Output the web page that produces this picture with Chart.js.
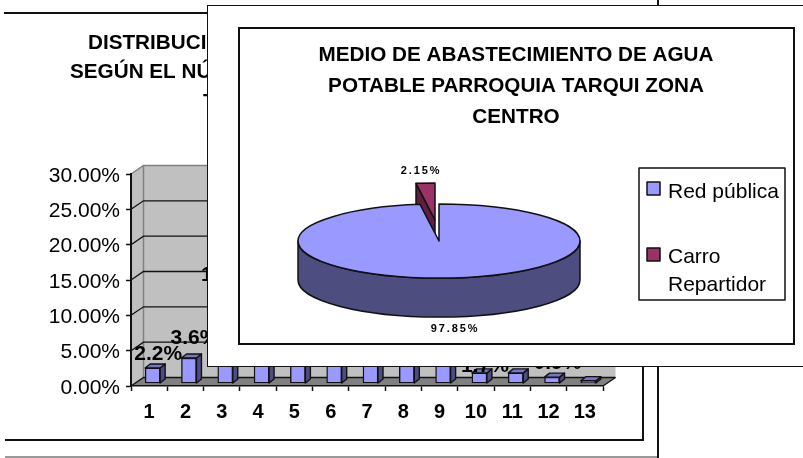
<!DOCTYPE html>
<html>
<head>
<meta charset="utf-8">
<script src="https://cdn.jsdelivr.net/npm/chart.js@4"></script>
<style>
html,body{margin:0;padding:0;background:#fff;}
#page{position:relative;width:803px;height:458px;overflow:hidden;background:#fff;font-family:"Liberation Sans",Arial,sans-serif;}
.ln{position:absolute;background:#111;}
canvas{position:absolute;display:block;}
#win{position:absolute;left:207px;top:5px;width:620px;height:360px;background:#fff;border:1.5px solid #111;}
#frame{position:absolute;left:238px;top:27px;width:553px;height:314px;border:2px solid #111;background:#fff;}
#pie{left:239px;top:28px;}
</style>
</head>
<body>
<div id="page">
  <canvas id="bars" width="803" height="458" style="left:0;top:0"></canvas>
  <div class="ln" style="left:4px;top:12px;width:210px;height:2px"></div>
  <div class="ln" style="left:5px;top:439px;width:639px;height:2px"></div>
  <div class="ln" style="left:642px;top:360px;width:2px;height:81px"></div>
  <div class="ln" style="left:5px;top:456px;width:652px;height:2px;background:#999"></div>
  <div class="ln" style="left:657px;top:0;width:1.5px;height:458px"></div>
  <div id="win"></div>
  <div id="frame"></div>
  <canvas id="pie" width="554" height="314"></canvas>
</div>
<script>
// ---- bar chart data ----
const barCategories = ['1','2','3','4','5','6','7','8','9','10','11','12','13'];
const barValues = [2.2, 3.6, 13.4, 19.5, 20.4, 14.6, 10.5, 6.5, 4.0, 1.5, 1.5, 0.9, 0.4];
const barLabels = ['2.2%','3.6%','13.4%','19.5%','20.4%','14.6%','10.5%','6.5%','4.0%','1.7%','','0.9%',''];
const barTitleLines = ['DISTRIBUCIÓN','SEGÚN EL NÚMERO','T'];

// ---- pie chart data ----
const pieCategories = ['Red pública','Carro Repartidor'];
const pieValues = [97.85, 2.15];
const pieLabels = ['97.85%','2.15%'];
const pieTitleLines = ['MEDIO DE ABASTECIMIENTO DE AGUA','POTABLE PARROQUIA TARQUI ZONA','CENTRO'];

const FONT = '"Liberation Sans", Arial, sans-serif';
const INK='#000';
const BLUE='#9999ff', BLUE_SIDE='#4d4d80', BLUE_TOP='#7676c4', RED='#993366', RED_SIDE='#5f1f42';

const bar3d = {
  id:'bar3d',
  beforeDraw(chart){
    const {ctx,chartArea:a,scales:{y}}=chart;
    const dx=12.5, dy=8.5;
    // tick text sits slightly below its tick in the reference
    if(!y._nudged){
      y.getLabelItems().forEach(i=>{i.options.translation[1]+=2;});
      y._nudged=true;
    }
    ctx.save();
    ctx.fillStyle='#808080';
    ctx.beginPath();ctx.moveTo(a.left,a.bottom);ctx.lineTo(a.right,a.bottom);ctx.lineTo(a.right+dx,a.bottom-dy);ctx.lineTo(a.left+dx,a.bottom-dy);ctx.closePath();ctx.fill();
    ctx.fillStyle='#c0c0c0';
    ctx.fillRect(a.left+dx,a.top-dy,a.width,a.height);
    ctx.beginPath();ctx.moveTo(a.left,a.bottom);ctx.lineTo(a.left+dx,a.bottom-dy);ctx.lineTo(a.left+dx,a.top-dy);ctx.lineTo(a.left,a.top);ctx.closePath();ctx.fill();
    ctx.strokeStyle='#808080';ctx.lineWidth=1.5;
    ctx.beginPath();ctx.moveTo(a.left,a.top);ctx.lineTo(a.left+dx,a.top-dy);ctx.lineTo(a.right+dx,a.top-dy);ctx.moveTo(a.left+dx,a.top-dy);ctx.lineTo(a.left+dx,a.bottom-dy);ctx.stroke();
    ctx.strokeStyle='#111';ctx.lineWidth=1.3;
    y.ticks.forEach(t=>{
      if(t.value===y.max) return;
      const p=y.getPixelForValue(t.value);
      ctx.beginPath();ctx.moveTo(a.left,p);ctx.lineTo(a.left+dx,p-dy);ctx.lineTo(a.right+dx,p-dy);ctx.stroke();
    });
    ctx.beginPath();ctx.moveTo(a.right,a.bottom);ctx.lineTo(a.right+dx,a.bottom-dy);ctx.stroke();
    ctx.restore();
  },
  beforeDatasetsDraw(chart){
    const {ctx}=chart;
    ctx.save();ctx.translate(3.5,-2.5);
  },
  afterDatasetsDraw(chart){
    const {ctx}=chart;
    const meta=chart.getDatasetMeta(0);
    const dx=5, dy=4;
    ctx.strokeStyle='#111';ctx.lineWidth=1.4;ctx.lineJoin='round';
    meta.data.forEach(el=>{
      const l=el.x-el.width/2,r=el.x+el.width/2,t=el.y,b=el.base;
      ctx.fillStyle=BLUE_SIDE;
      ctx.beginPath();ctx.moveTo(r,t);ctx.lineTo(r+dx,t-dy);ctx.lineTo(r+dx,b-dy);ctx.lineTo(r,b);ctx.closePath();ctx.fill();ctx.stroke();
      ctx.fillStyle=BLUE_TOP;
      ctx.beginPath();ctx.moveTo(l,t);ctx.lineTo(l+dx,t-dy);ctx.lineTo(r+dx,t-dy);ctx.lineTo(r,t);ctx.closePath();ctx.fill();ctx.stroke();
    });
    ctx.restore();
    ctx.save();
    ctx.font='bold 21px '+FONT;ctx.fillStyle=INK;ctx.textAlign='center';ctx.textBaseline='middle';
    const nudge={1:-6,9:7};
    meta.data.forEach((el,i)=>{
      if(barLabels[i]) ctx.fillText(barLabels[i],el.x+9,el.y-16+(nudge[i]||0));
    });
    ctx.font='bold 20.7px '+FONT;ctx.textAlign='left';
    const starts=[88,70,203];
    barTitleLines.forEach((s,i)=>ctx.fillText(s,starts[i],43+i*29.5));
    ctx.restore();
  }
};

new Chart(document.getElementById('bars'),{
  type:'bar',
  data:{labels:barCategories,datasets:[{data:barValues,backgroundColor:BLUE,borderColor:'#111',borderWidth:1.4,borderSkipped:false,barThickness:15}]},
  options:{
    responsive:false,animation:false,
    layout:{padding:{top:174,right:200,left:0,bottom:0}},
    plugins:{legend:{display:false},title:{display:false},tooltip:{enabled:false}},
    scales:{
      x:{
        grid:{drawOnChartArea:false,color:'#111',tickLength:5,tickWidth:1.5},
        border:{color:'#111',width:1.5},
        ticks:{color:INK,padding:9,maxRotation:0,autoSkip:false,font:{family:FONT,size:20,weight:'bold'}},
        afterFit(s){s.height=72;}
      },
      y:{
        min:0,max:30,
        grid:{drawOnChartArea:false,color:'#111',tickLength:5,tickWidth:1.5},
        border:{color:'#111',width:2},
        ticks:{stepSize:5,color:INK,padding:6,font:{family:FONT,size:21},callback:v=>v.toFixed(2)+'%'},
        afterFit(s){s.width=131;}
      }
    }
  },
  plugins:[bar3d]
});

const PIE={cx:200,cy:213,ry:37,depth:39,ex:-4,ey:-21};
const pie3d={
  id:'pie3d',
  beforeDatasetsDraw(chart){
    const {ctx}=chart;
    const meta=chart.getDatasetMeta(0);
    const [main,wedge]=meta.data;
    const rx=main.outerRadius,{cx,cy,ry,depth,ex,ey}=PIE;
    const k=ry/rx;
    ctx.save();
    ctx.strokeStyle='#111';ctx.lineWidth=1.5;ctx.lineJoin='round';
    const ax=cx+ex,ay=cy+ey;
    const px=ax+rx*Math.cos(wedge.startAngle),py=ay+ry*Math.sin(wedge.startAngle);
    ctx.fillStyle=RED_SIDE;
    ctx.beginPath();ctx.moveTo(ax,ay);ctx.lineTo(px,py);ctx.lineTo(px,py+depth);ctx.lineTo(ax,ay+depth);ctx.closePath();ctx.fill();ctx.stroke();
    ctx.fillStyle=BLUE_SIDE;
    ctx.beginPath();ctx.moveTo(cx-rx,cy);ctx.lineTo(cx-rx,cy+depth);
    ctx.ellipse(cx,cy+depth,rx,ry,0,Math.PI,0,true);
    ctx.lineTo(cx+rx,cy);
    ctx.ellipse(cx,cy,rx,ry,0,0,Math.PI,false);
    ctx.closePath();ctx.fill();ctx.stroke();
    ctx.restore();
    if(!wedge._moved){
      const d=wedge.draw;
      wedge.draw=function(c){c.save();c.translate(ex,ey/k);d.call(this,c);c.restore();};
      wedge._moved=true;
    }
    ctx.save();
    ctx.translate(cx,cy);ctx.scale(1,k);ctx.translate(-main.x,-main.y);
  },
  afterDatasetsDraw(chart){
    const {ctx}=chart;
    ctx.restore();
    const meta=chart.getDatasetMeta(0);
    const [main,wedge]=meta.data;
    const rx=main.outerRadius,{cx,cy,ry,ex,ey}=PIE;
    ctx.save();
    ctx.strokeStyle='#111';ctx.lineWidth=1.5;ctx.lineJoin='round';
    [[main,0,0],[wedge,ex,ey]].forEach(([el,ox,oy])=>{
      ctx.beginPath();
      ctx.moveTo(cx+ox,cy+oy);
      ctx.ellipse(cx+ox,cy+oy,rx,ry,0,el.startAngle,el.endAngle,false);
      ctx.closePath();ctx.stroke();
    });
    ctx.font='bold 11px '+FONT;ctx.fillStyle=INK;ctx.textAlign='center';ctx.textBaseline='middle';
    ctx.letterSpacing='1.9px';
    ctx.fillText(pieLabels[0],cx+16,cy+88);
    ctx.fillText(pieLabels[1],cx-18,cy-70);
    ctx.letterSpacing='0px';
    const lx=400,ly=140,lw=146,lh=132;
    ctx.lineWidth=1.5;ctx.strokeRect(lx,ly,lw,lh);
    ctx.font='21px '+FONT;ctx.textAlign='left';ctx.textBaseline='alphabetic';
    const rows=[{sw:154,lines:[170]},{sw:220,lines:[235,263]}];
    pieCategories.forEach((name,i)=>{
      ctx.fillStyle=i?RED:BLUE;
      ctx.fillRect(lx+8,rows[i].sw,13,13);ctx.strokeRect(lx+8,rows[i].sw,13,13);
      ctx.fillStyle=INK;
      const words=wrap(ctx,name,116);
      words.forEach((w,j)=>ctx.fillText(w,lx+29,rows[i].lines[j]));
    });
    ctx.restore();
  }
};
function wrap(ctx,text,max){
  const out=[];let cur='';
  text.split(' ').forEach(w=>{
    const t=cur?cur+' '+w:w;
    if(ctx.measureText(t).width>max&&cur){out.push(cur);cur=w;}else cur=t;
  });
  out.push(cur);return out;
}

new Chart(document.getElementById('pie'),{
  type:'pie',
  data:{labels:pieCategories,datasets:[{data:pieValues,backgroundColor:[BLUE,RED],borderWidth:0,radius:141,clip:false}]},
  options:{
    responsive:false,animation:false,
    plugins:{
      legend:{display:false},tooltip:{enabled:false},
      title:{display:true,text:pieTitleLines,color:INK,padding:{top:12,bottom:0},font:{family:FONT,size:20.7,weight:'bold',lineHeight:1.49}}
    }
  },
  plugins:[pie3d]
});
</script>
</body>
</html>
